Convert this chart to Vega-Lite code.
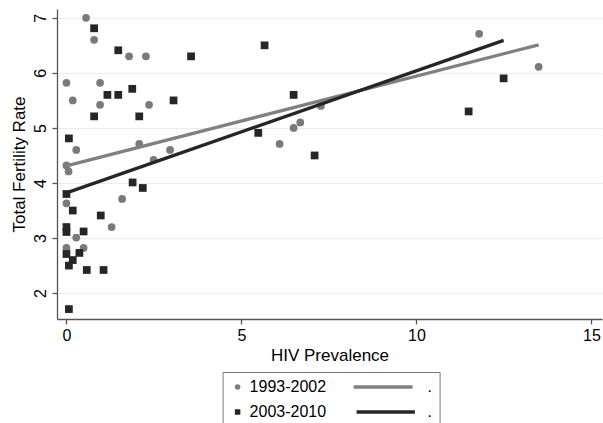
{
  "$schema": "https://vega.github.io/schema/vega-lite/v6.json",
  "width": 545,
  "height": 310,
  "autosize": {"type": "none"},
  "padding": {"left": 57, "top": 9, "right": 1, "bottom": 104},
  "background": "white",
  "config": {
    "view": {"stroke": null},
    "font": "Liberation Sans",
    "axis": {
      "domainColor": "#555555",
      "tickColor": "#555555",
      "domainWidth": 1.3,
      "tickWidth": 1.3,
      "tickSize": 5,
      "labelColor": "#000000",
      "titleColor": "#000000",
      "labelFontSize": 16,
      "titleFontSize": 17,
      "titleFontWeight": "normal"
    }
  },
  "datasets": {
    "pts": [
      {"hiv": 0.56, "tfr": 7.0, "key": "1993-2002"},
      {"hiv": 0.79, "tfr": 6.6, "key": "1993-2002"},
      {"hiv": 1.79, "tfr": 6.3, "key": "1993-2002"},
      {"hiv": 2.27, "tfr": 6.3, "key": "1993-2002"},
      {"hiv": 0.0, "tfr": 5.82, "key": "1993-2002"},
      {"hiv": 0.18, "tfr": 5.5, "key": "1993-2002"},
      {"hiv": 0.96, "tfr": 5.82, "key": "1993-2002"},
      {"hiv": 0.96, "tfr": 5.42, "key": "1993-2002"},
      {"hiv": 2.36, "tfr": 5.42, "key": "1993-2002"},
      {"hiv": 0.28, "tfr": 4.6, "key": "1993-2002"},
      {"hiv": 2.08, "tfr": 4.71, "key": "1993-2002"},
      {"hiv": 2.96, "tfr": 4.6, "key": "1993-2002"},
      {"hiv": 2.49, "tfr": 4.42, "key": "1993-2002"},
      {"hiv": 0.0, "tfr": 4.32, "key": "1993-2002"},
      {"hiv": 0.06, "tfr": 4.21, "key": "1993-2002"},
      {"hiv": 6.09, "tfr": 4.71, "key": "1993-2002"},
      {"hiv": 6.49, "tfr": 5.0, "key": "1993-2002"},
      {"hiv": 6.68, "tfr": 5.1, "key": "1993-2002"},
      {"hiv": 7.27, "tfr": 5.4, "key": "1993-2002"},
      {"hiv": 11.79, "tfr": 6.71, "key": "1993-2002"},
      {"hiv": 13.49, "tfr": 6.11, "key": "1993-2002"},
      {"hiv": 0.0, "tfr": 3.63, "key": "1993-2002"},
      {"hiv": 1.59, "tfr": 3.71, "key": "1993-2002"},
      {"hiv": 1.29, "tfr": 3.2, "key": "1993-2002"},
      {"hiv": 0.28, "tfr": 3.01, "key": "1993-2002"},
      {"hiv": 0.0, "tfr": 2.82, "key": "1993-2002"},
      {"hiv": 0.49, "tfr": 2.82, "key": "1993-2002"},
      {"hiv": 0.79, "tfr": 6.81, "key": "2003-2010"},
      {"hiv": 1.48, "tfr": 6.41, "key": "2003-2010"},
      {"hiv": 3.56, "tfr": 6.3, "key": "2003-2010"},
      {"hiv": 5.66, "tfr": 6.5, "key": "2003-2010"},
      {"hiv": 1.17, "tfr": 5.6, "key": "2003-2010"},
      {"hiv": 1.48, "tfr": 5.6, "key": "2003-2010"},
      {"hiv": 1.88, "tfr": 5.71, "key": "2003-2010"},
      {"hiv": 0.79, "tfr": 5.21, "key": "2003-2010"},
      {"hiv": 2.08, "tfr": 5.21, "key": "2003-2010"},
      {"hiv": 3.06, "tfr": 5.5, "key": "2003-2010"},
      {"hiv": 0.07, "tfr": 4.81, "key": "2003-2010"},
      {"hiv": 5.48, "tfr": 4.91, "key": "2003-2010"},
      {"hiv": 6.49, "tfr": 5.6, "key": "2003-2010"},
      {"hiv": 7.09, "tfr": 4.5, "key": "2003-2010"},
      {"hiv": 11.49, "tfr": 5.3, "key": "2003-2010"},
      {"hiv": 12.49, "tfr": 5.9, "key": "2003-2010"},
      {"hiv": 0.0, "tfr": 3.8, "key": "2003-2010"},
      {"hiv": 1.89, "tfr": 4.01, "key": "2003-2010"},
      {"hiv": 2.18, "tfr": 3.91, "key": "2003-2010"},
      {"hiv": 0.18, "tfr": 3.5, "key": "2003-2010"},
      {"hiv": 0.98, "tfr": 3.41, "key": "2003-2010"},
      {"hiv": 0.0, "tfr": 3.2, "key": "2003-2010"},
      {"hiv": 0.0, "tfr": 3.11, "key": "2003-2010"},
      {"hiv": 0.49, "tfr": 3.12, "key": "2003-2010"},
      {"hiv": 0.0, "tfr": 2.71, "key": "2003-2010"},
      {"hiv": 0.37, "tfr": 2.73, "key": "2003-2010"},
      {"hiv": 0.18, "tfr": 2.6, "key": "2003-2010"},
      {"hiv": 0.07, "tfr": 2.5, "key": "2003-2010"},
      {"hiv": 0.58, "tfr": 2.42, "key": "2003-2010"},
      {"hiv": 1.06, "tfr": 2.42, "key": "2003-2010"},
      {"hiv": 0.07, "tfr": 1.71, "key": "2003-2010"}
    ],
    "fit": [
      {"hiv": 0.0, "tfr": 4.31, "key": "fit1"},
      {"hiv": 13.49, "tfr": 6.51, "key": "fit1"},
      {"hiv": 0.0, "tfr": 3.82, "key": "fit2"},
      {"hiv": 12.49, "tfr": 6.59, "key": "fit2"}
    ]
  },
  "layer": [
    {
      "data": {"name": "pts"},
      "mark": {"type": "point", "filled": true, "size": 60, "opacity": 1},
      "encoding": {
        "x": {
          "field": "hiv", "type": "quantitative", "title": "HIV Prevalence",
          "scale": {"domain": [-0.27, 15.3], "nice": false, "zero": false},
          "axis": {"values": [0, 5, 10, 15], "grid": false, "labelPadding": 3, "titlePadding": 4}
        },
        "y": {
          "field": "tfr", "type": "quantitative", "title": "Total Fertility Rate",
          "scale": {"domain": [1.53, 7.16], "nice": false, "zero": false},
          "axis": {"values": [2, 3, 4, 5, 6, 7], "format": "d", "grid": true, "gridColor": "#e4eff1", "gridWidth": 1, "labelAngle": -90, "labelPadding": 4, "titlePadding": 4}
        },
        "color": {
          "field": "key", "type": "nominal",
          "scale": {"domain": ["1993-2002", "2003-2010", "fit1", "fit2"], "range": ["#7a7a7a", "#262626", "#808080", "#262626"]},
          "legend": {
            "title": null, "orient": "none", "legendX": 165.6, "legendY": 363,
            "values": ["1993-2002", "2003-2010", "fit1", "fit2"],
            "columns": 2, "columnPadding": 20, "rowPadding": 9,
            "strokeColor": "#777777", "padding": 7, "labelFontSize": 16, "labelColor": "#000000",
            "symbolSize": 4, "symbolStrokeWidth": 3.5, "labelOffset": 4,
            "labelExpr": "indexof(datum.label, 'fit') == 0 ? '.' : datum.label"
          }
        },
        "shape": {
          "field": "key", "type": "nominal",
          "scale": {"domain": ["1993-2002", "2003-2010", "fit1", "fit2"], "range": ["circle", "square", "M-62,0H-3", "M-59,0H-0.7"]},
          "legend": {
            "title": null, "orient": "none", "legendX": 165.6, "legendY": 363,
            "values": ["1993-2002", "2003-2010", "fit1", "fit2"],
            "columns": 2, "columnPadding": 20, "rowPadding": 9,
            "strokeColor": "#777777", "padding": 7, "labelFontSize": 16, "labelColor": "#000000",
            "symbolSize": 4, "symbolStrokeWidth": 3.5, "labelOffset": 4,
            "labelExpr": "indexof(datum.label, 'fit') == 0 ? '.' : datum.label"
          }
        }
      }
    },
    {
      "data": {"name": "fit"},
      "mark": {"type": "line", "strokeWidth": 3.3},
      "encoding": {
        "x": {"field": "hiv", "type": "quantitative"},
        "y": {"field": "tfr", "type": "quantitative"},
        "color": {"field": "key", "type": "nominal"}
      }
    }
  ]
}
